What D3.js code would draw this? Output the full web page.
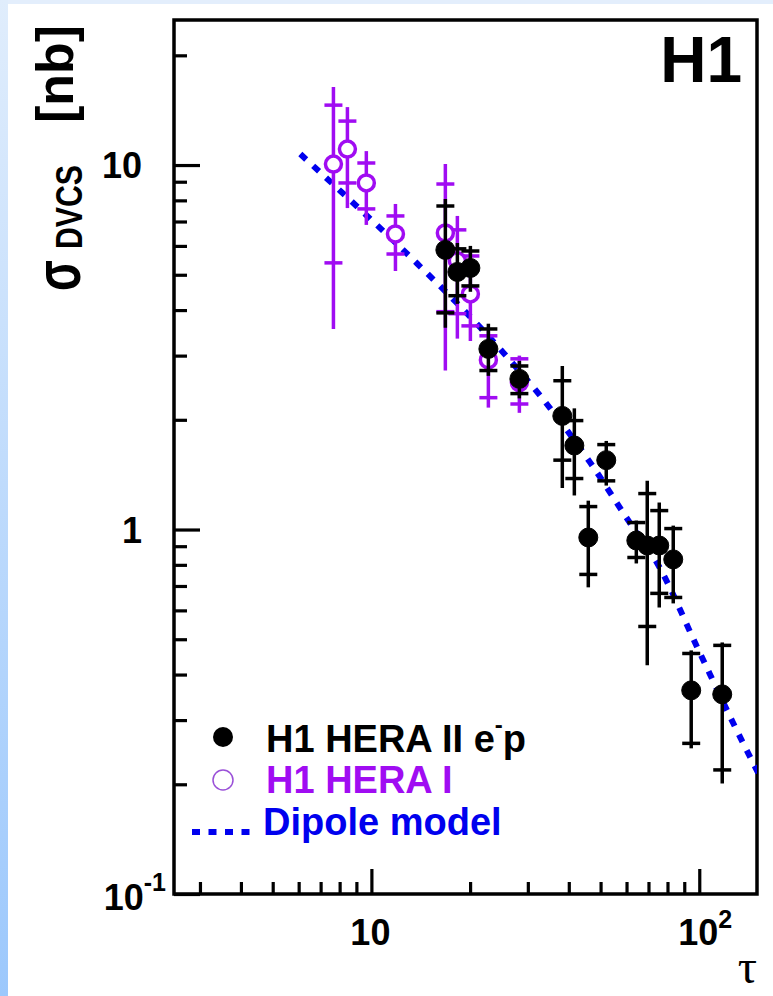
<!DOCTYPE html>
<html><head><meta charset="utf-8">
<script src="https://cdn.jsdelivr.net/npm/d3@7"></script>
<style>body{margin:0;background:#fff}svg{display:block}</style>
</head><body>
<script>
// ---------------- data ----------------
const hera1Tau    = [7.66, 8.45, 9.65, 11.84, 16.81, 18.29, 20.04, 22.74, 28.27];
const hera1Sigma  = [10.06, 11.06, 8.93, 6.47, 6.51, 5.46, 4.43, 2.92, 2.53];
const hera1StatLo = [5.39, 8.93, 7.58, 5.70, 3.96, 3.91, 3.62, 2.30, 2.21];
const hera1StatHi = [14.60, 13.20, 10.13, 7.25, 8.87, 6.64, 5.63, 3.40, 2.94];
const hera1TotLo  = [3.55, 7.62, 6.85, 5.12, 2.73, 3.34, 3.29, 2.16, 2.09];
const hera1TotHi  = [16.36, 14.42, 10.92, 7.82, 10.06, 7.25, 5.81, 3.51, 3.00];

const hera2Tau    = [16.81, 18.29, 20.04, 22.74, 28.27, 38.22, 41.59, 45.87, 52.04, 64.27, 69.4, 75.5, 83.3, 94.5, 117.5];
const hera2Sigma  = [5.85, 5.09, 5.22, 3.13, 2.59, 2.05, 1.70, 0.951, 1.55, 0.933, 0.904, 0.904, 0.828, 0.362, 0.353];
const hera2StatLo = [3.93, 4.38, 4.66, 2.73, 2.36, 1.55, 1.38, 0.753, 1.36, 0.838, 0.542, 0.668, 0.651, 0.259, 0.219];
const hera2StatHi = [7.72, 5.89, 5.81, 3.55, 2.81, 2.56, 1.99, 1.156, 1.71, 1.045, 1.255, 1.127, 1.006, 0.457, 0.481];
const hera2TotLo  = [3.58, 4.16, 4.49, 2.64, 2.29, 1.30, 1.24, 0.694, 1.32, 0.807, 0.424, 0.611, 0.627, 0.251, 0.201];
const hera2TotHi  = [8.07, 6.11, 6.00, 3.67, 2.90, 2.81, 2.15, 1.20, 1.75, 1.058, 1.36, 1.186, 1.025, 0.466, 0.490];

const modelTau    = [6.07, 8.04, 13.81, 19.6, 25.3, 32.7, 46.5, 61.6, 74.5, 98.6, 127, 151.4];
const modelSigma  = [10.72, 8.49, 5.36, 3.91, 3.05, 2.33, 1.526, 1.039, 0.807, 0.475, 0.294, 0.2145];

const xMajor = [10, 100];
const xMinor = [3,4,5,6,7,8,9,20,30,40,50,60,70,80,90];
const yMajor = [0.1, 1, 10];
const yMinor = [0.2,0.3,0.4,0.5,0.6,0.7,0.8,0.9,2,3,4,5,6,7,8,9,20];
const xTickLabels = [{v:10, base:"10", sup:""}, {v:100, base:"10", sup:"2"}];
const yTickLabels = [{v:0.1, base:"10", sup:"-1"}, {v:1, base:"1", sup:""}, {v:10, base:"10", sup:""}];
const legendLabels = ["H1 HERA II e", "H1 HERA I", "Dipole model"];

// ---------------- setup ----------------
const W = 773, H = 996;
const FONT = "'Liberation Sans', Arial, Helvetica, sans-serif";
const PURPLE = "#a00cf2", BLUE = "#0000ee";
const svg = d3.select("body").append("svg").attr("width", W).attr("height", H);
const defs = svg.append("defs");
const grad = defs.append("linearGradient").attr("id","lg").attr("x1",0).attr("y1",0).attr("x2",0).attr("y2",1);
grad.append("stop").attr("offset","0%").attr("stop-color","#e0edfc");
grad.append("stop").attr("offset","100%").attr("stop-color","#9cc8fc");
defs.append("clipPath").attr("id","plotclip").append("rect")
  .attr("x",174).attr("y",20).attr("width",583).attr("height",874);

svg.append("rect").attr("width",W).attr("height",H).attr("fill","#fff");
svg.append("rect").attr("width",W).attr("height",4).attr("fill","#e3eefc");
svg.append("rect").attr("width",8).attr("height",H).attr("fill","url(#lg)");

const x = d3.scaleLog().domain([2.5, 150]).range([174, 757]);
const y = d3.scaleLog().domain([0.1, 25]).range([894, 20]);

// axes (ticks inward)
const axX = svg.append("g").attr("transform","translate(0,894)");
axX.call(d3.axisBottom(x).tickValues(xMajor).tickSize(-25).tickFormat(""));
const axXm = svg.append("g").attr("transform","translate(0,894)");
axXm.call(d3.axisBottom(x).tickValues(xMinor).tickSize(-12).tickFormat(""));
const axY = svg.append("g").attr("transform","translate(174,0)");
axY.call(d3.axisLeft(y).tickValues(yMajor).tickSize(-26).tickFormat(""));
const axYm = svg.append("g").attr("transform","translate(174,0)");
axYm.call(d3.axisLeft(y).tickValues(yMinor).tickSize(-13).tickFormat(""));
svg.selectAll(".domain").remove();
svg.selectAll(".tick line").attr("stroke","#000").attr("stroke-width",3.2);

// frame
svg.append("rect").attr("x",174).attr("y",20).attr("width",583).attr("height",874)
  .attr("fill","none").attr("stroke","#000").attr("stroke-width",3.5);

// tick labels
xTickLabels.forEach(d => {
  const t = svg.append("text").attr("x", x(d.v) - 1).attr("y", 945)
    .attr("text-anchor","middle").attr("font-family",FONT).attr("font-weight","bold")
    .attr("font-size",36).attr("fill","#000");
  if (d.sup) {
    t.attr("text-anchor","start").attr("x", x(d.v) - 21);
    t.append("tspan").text(d.base);
    t.append("tspan").attr("dy",-17).attr("font-size",25).text(d.sup);
  } else t.text(d.base);
});
yTickLabels.forEach(d => {
  const t = svg.append("text").attr("y", y(d.v) + 13)
    .attr("text-anchor","end").attr("font-family",FONT).attr("font-weight","bold")
    .attr("font-size",36).attr("fill","#000");
  if (d.sup) {
    t.attr("x", 166).attr("y", y(d.v) + 16);
    t.append("tspan").text(d.base);
    t.append("tspan").attr("dy",-19).attr("font-size",25).text(d.sup);
  } else t.attr("x", 142).text(d.base);
});

// axis titles
svg.append("text").attr("transform","translate(757,983)").attr("text-anchor","end")
  .attr("font-family","'Liberation Serif', 'DejaVu Serif', serif").attr("font-size",48)
  .attr("fill","#000").text("τ");
svg.append("text").attr("transform","translate(80,291) rotate(-90)")
  .attr("font-family",FONT).attr("font-weight","bold").attr("font-size",64)
  .attr("textLength",31).attr("lengthAdjust","spacingAndGlyphs").attr("fill","#000").text("σ");
svg.append("text").attr("transform","translate(82,249) rotate(-90)")
  .attr("font-family",FONT).attr("font-weight","bold").attr("font-size",37)
  .attr("textLength",84).attr("lengthAdjust","spacingAndGlyphs").attr("fill","#000").text("DVCS");
svg.append("text").attr("transform","translate(73,123) rotate(-90)")
  .attr("font-family",FONT).attr("font-weight","bold").attr("font-size",52)
  .attr("textLength",98).attr("lengthAdjust","spacingAndGlyphs").attr("fill","#000").text("[nb]");

// H1 label
svg.append("text").attr("x",742).attr("y",82).attr("text-anchor","end")
  .attr("font-family",FONT).attr("font-weight","bold").attr("font-size",64).attr("fill","#000").text("H1");

// model curve
const line = d3.line().x(d => x(d[0])).y(d => y(d[1])).curve(d3.curveMonotoneX);
svg.append("path").attr("clip-path","url(#plotclip)")
  .datum(modelTau.map((t,i) => [t, modelSigma[i]]))
  .attr("d", line).attr("fill","none").attr("stroke",BLUE)
  .attr("stroke-width",6).attr("stroke-dasharray","8,9.5");

// data drawing
function drawSeries(tau, sig, sLo, sHi, tLo, tHi, color, filled) {
  const data = tau.map((t,i) => ({t, s:sig[i], sLo:sLo[i], sHi:sHi[i], tLo:tLo[i], tHi:tHi[i]}));
  const g = svg.append("g");
  g.selectAll(".eb").data(data).join("line")
    .attr("x1", d => x(d.t)).attr("x2", d => x(d.t))
    .attr("y1", d => y(d.tLo)).attr("y2", d => y(d.tHi))
    .attr("stroke", color).attr("stroke-width", 3.5);
  ["sLo","sHi"].forEach(k => {
    g.selectAll(".tk"+k).data(data).join("line")
      .attr("x1", d => x(d.t) - 9).attr("x2", d => x(d.t) + 9)
      .attr("y1", d => y(d[k])).attr("y2", d => y(d[k]))
      .attr("stroke", color).attr("stroke-width", 3.5);
  });
  g.selectAll(".mk").data(data).join("circle")
    .attr("cx", d => x(d.t)).attr("cy", d => y(d.s))
    .attr("r", filled ? 9.5 : 8)
    .attr("fill", filled ? color : "#fff")
    .attr("stroke", color).attr("stroke-width", filled ? 1 : 3.5);
}
drawSeries(hera1Tau, hera1Sigma, hera1StatLo, hera1StatHi, hera1TotLo, hera1TotHi, PURPLE, false);
drawSeries(hera2Tau, hera2Sigma, hera2StatLo, hera2StatHi, hera2TotLo, hera2TotHi, "#000", true);

// legend
svg.append("circle").attr("cx",223).attr("cy",737).attr("r",10).attr("fill","#000");
const l1 = svg.append("text").attr("x",266).attr("y",752).attr("font-family",FONT)
  .attr("font-weight","bold").attr("font-size",38).attr("fill","#000");
l1.append("tspan").text(legendLabels[0]);
l1.append("tspan").attr("dy",-19).attr("font-size",24).text("-");
l1.append("tspan").attr("dy",19).text("p");
svg.append("circle").attr("cx",223).attr("cy",780).attr("r",10).attr("fill","none")
  .attr("stroke","#9a50d8").attr("stroke-width",1.5);
svg.append("text").attr("x",266).attr("y",793).attr("font-family",FONT)
  .attr("font-weight","bold").attr("font-size",38).attr("fill",PURPLE).text(legendLabels[1]);
svg.append("line").attr("x1",192).attr("x2",252).attr("y1",832).attr("y2",832)
  .attr("stroke",BLUE).attr("stroke-width",6).attr("stroke-dasharray","8,8.5");
svg.append("text").attr("x",263).attr("y",835).attr("font-family",FONT)
  .attr("font-weight","bold").attr("font-size",38).attr("fill",BLUE).text(legendLabels[2]);
</script>
</body></html>
